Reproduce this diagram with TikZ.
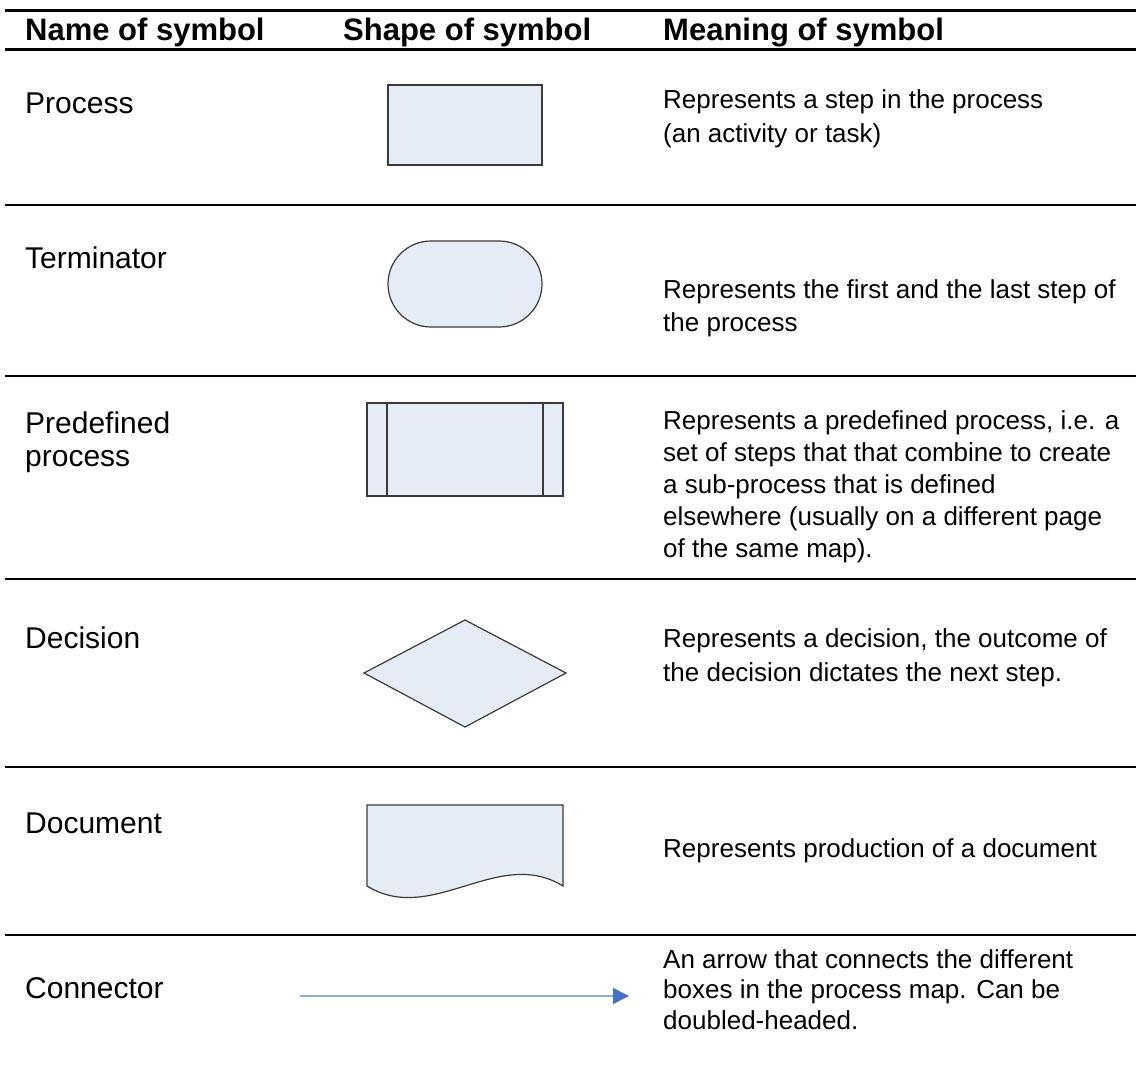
\documentclass[tikz,border=0pt]{standalone}
\usepackage{fontspec}
\setmainfont{Liberation Sans}
\usetikzlibrary{arrows.meta}

\definecolor{shapefill}{HTML}{E6ECF6}
\definecolor{shapeline}{HTML}{3A3A3A}
\definecolor{linkline}{HTML}{8EAADB}
\definecolor{linkhead}{HTML}{4472C4}

\begin{document}
\begin{tikzpicture}[x=1pt,y=-1pt,
  heading/.style={anchor=base west, inner sep=0pt, font=\fontsize{31}{37}\selectfont\bfseries},
  symname/.style={anchor=base west, inner sep=0pt, align=left, font=\fontsize{30}{33}\selectfont},
  meaning/.style={anchor=north west, inner sep=0pt, align=left, font=\fontsize{26}{33}\selectfont},
  thickrule/.style={line width=3pt, black},
  rowrule/.style={line width=2pt, black},
  symshape/.style={draw=shapeline, fill=shapefill, line width=1.2pt, line join=miter}
]
\useasboundingbox (0,0) rectangle (1136,1084);

% table rules
\draw[thickrule] (5,10) -- (1136,10);
\draw[thickrule] (5,49) -- (1136,49);
\foreach \yy in {205,376,579,767,935}
  \draw[rowrule] (5,\yy) -- (1136,\yy);

% column headings
\node[heading] (hname) at (25,40) {Name of symbol};
\node[heading] (hshape) at (343,40) {Shape of symbol};
\node[heading] (hmeaning) at (663,40) {Meaning of symbol};

% symbol names
\node[symname] (nprocess) at (25,113) {Process};
\node[symname] (nterm) at (25,268) {Terminator};
\node[symname] (npredef) at (25,433) {Predefined};
\node[symname] (npredef2) at (25,466) {process};
\node[symname] (ndecision) at (25,648) {Decision};
\node[symname] (ndocument) at (25,833) {Document};
\node[symname] (nconnector) at (25,998) {Connector};

% process
\draw[symshape] (388,85) rectangle (542,165);

% terminator
\draw[symshape, rounded corners=43pt] (388,241) rectangle (542,327);

% predefined process
\draw[symshape] (367,403) rectangle (563,496);
\draw[shapeline, line width=1.2pt] (387,403) -- (387,496);
\draw[shapeline, line width=1.2pt] (543,403) -- (543,496);

% decision
\draw[symshape] (364,673) -- (465,620) -- (566,673) -- (465,727) -- cycle;

% document
\draw[symshape] (367,886) -- (367,805) -- (563,805) -- (563,886)
  .. controls (498,846) and (432,926) .. (367,886) -- cycle;

% connector
\coordinate (linkstart) at (300,996);
\coordinate (linkend) at (629,996);
\draw[linkline, line width=1.6pt, -{Triangle[length=16pt,width=16pt,color=linkhead]}] (linkstart) -- (linkend);

% meanings
\node[meaning, font=\fontsize{26}{34}\selectfont] (mprocess) at (663,89) {Represents a step in the process\\(an activity or task)};
\node[meaning] (mterm) at (663,279) {Represents the first and the last step of\\the process};
\node[meaning, font=\fontsize{26}{32.2}\selectfont] (mpredef) at (663,410) {Represents a predefined process, i.e. a\\set of steps that that combine to create\\a sub-process that is defined\\elsewhere (usually on a different page\\of the same map).};
\node[meaning, font=\fontsize{26}{34}\selectfont] (mdecision) at (663,628) {Represents a decision, the outcome of\\the decision dictates the next step.};
\node[meaning] (mdocument) at (663,838) {Represents production of a document};
\node[meaning, font=\fontsize{26}{30.5}\selectfont] (mconnector) at (663,949) {An arrow that connects the different\\boxes in the process map. Can be\\doubled-headed.};
\end{tikzpicture}
\end{document}
